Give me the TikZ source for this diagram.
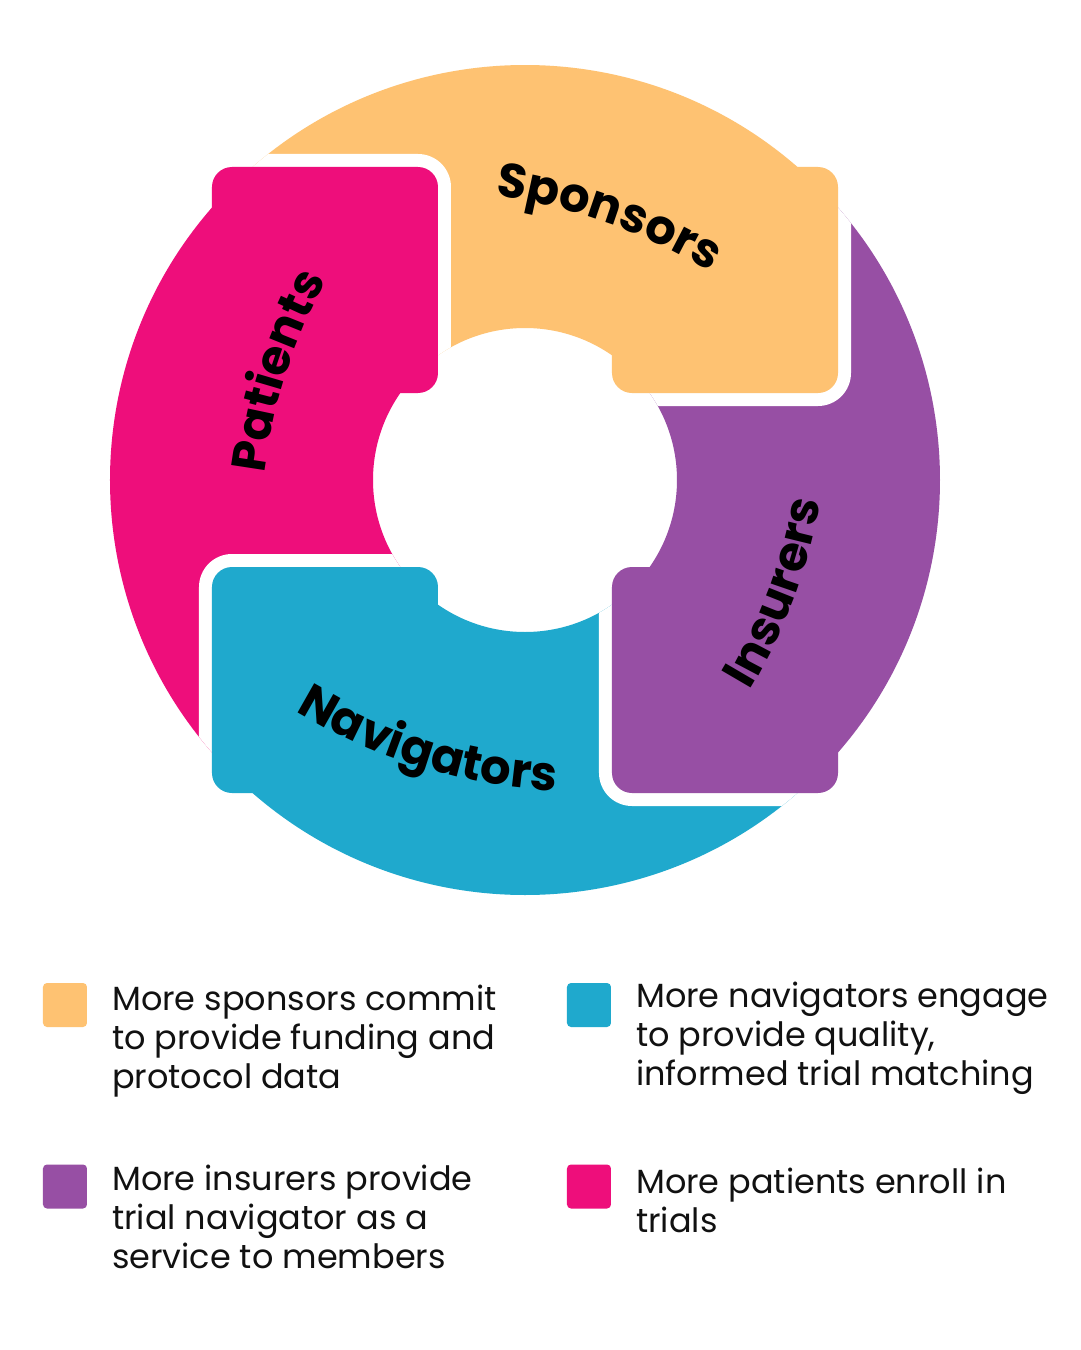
\documentclass[tikz,border=0pt]{standalone}
\usepackage{fontspec}
\setmainfont{Poppins}
\newfontfamily\poppins{Poppins}
\usetikzlibrary{decorations.text}
\definecolor{cOrange}{HTML}{FEC272}
\definecolor{cPurple}{HTML}{974FA4}
\definecolor{cBlue}{HTML}{1FA9CD}
\definecolor{cPink}{HTML}{EE0E7B}
\definecolor{cText}{HTML}{111111}
\newcommand\lblfont{\poppins\bfseries\fontsize{48}{48}\selectfont}
\begin{document}
\begin{tikzpicture}[x=1pt,y=1pt,
  tabbox/.style={rounded corners=20pt},
  tabborder/.style={fill=white, rounded corners=33pt},
  legsq/.style={rounded corners=4pt, minimum size=44pt, inner sep=0pt},
  legtext/.style={anchor=base west, align=left, inner sep=0pt, font=\fontsize{33.5}{39}\selectfont, text=cText},
  ringlabel/.style={decorate, decoration={text along path, text align=center, text={|\lblfont|#1}}}
]
\useasboundingbox (-525,-870) rectangle (555,480);
\fill[white] (-525,-870) rectangle (555,480);

% ring sectors
\fill[cOrange] (45:415) arc[start angle=45,end angle=135,radius=415] -- (135:152) arc[start angle=135,end angle=45,radius=152] -- cycle;
\fill[cPink] (135:415) arc[start angle=135,end angle=225,radius=415] -- (225:152) arc[start angle=225,end angle=135,radius=152] -- cycle;
\fill[cBlue] (225:415) arc[start angle=225,end angle=315,radius=415] -- (315:152) arc[start angle=315,end angle=225,radius=152] -- cycle;
\fill[cPurple] (-45:415) arc[start angle=-45,end angle=45,radius=415] -- (45:152) arc[start angle=45,end angle=-45,radius=152] -- cycle;

% orange tab over purple
\begin{scope}
\clip (-45:415) arc[start angle=-45,end angle=45,radius=415] -- (45:152) arc[start angle=45,end angle=-45,radius=152] -- cycle;
\fill[tabborder] (74,74) rectangle (326,326);
\end{scope}
\fill[cOrange, tabbox] (87,87) rectangle (313,313);

% pink tab over orange
\begin{scope}
\clip (45:415) arc[start angle=45,end angle=135,radius=415] -- (135:152) arc[start angle=135,end angle=45,radius=152] -- cycle;
\fill[tabborder] (-326,74) rectangle (-74,326);
\end{scope}
\fill[cPink, tabbox] (-313,87) rectangle (-87,313);

% blue tab over pink
\begin{scope}
\clip (135:415) arc[start angle=135,end angle=225,radius=415] -- (225:152) arc[start angle=225,end angle=135,radius=152] -- cycle;
\fill[tabborder] (-326,-326) rectangle (-74,-74);
\end{scope}
\fill[cBlue, tabbox] (-313,-313) rectangle (-87,-87);

% purple tab over blue
\begin{scope}
\clip (225:415) arc[start angle=225,end angle=315,radius=415] -- (315:152) arc[start angle=315,end angle=225,radius=152] -- cycle;
\fill[tabborder] (74,-326) rectangle (326,-74);
\end{scope}
\fill[cPurple, tabbox] (87,-313) rectangle (313,-87);

% ring labels
\begin{scope}[shift={(-101.7,-261.4)}]
\path[ringlabel=Sponsors] (91.3:550) arc[start angle=91.3,end angle=49.7,radius=550];
\end{scope}
\begin{scope}[shift={(285.1,-61.8)}]
\path[ringlabel=Patients] (183:550) arc[start angle=183,end angle=141.4,radius=550];
\end{scope}
\begin{scope}[shift={(-246.2,73.7)}]
\path[ringlabel=Insurers] (-41.3:550) arc[start angle=-41.3,end angle=0.3,radius=550];
\end{scope}
\begin{scope}[shift={(57.5,238.4)}]
\path[ringlabel=Navigators] (-127.9:550) arc[start angle=-127.9,end angle=-86.3,radius=550];
\end{scope}

% legend (node base = baseline of last line)
\node[legsq, fill=cOrange] (sqO) at (-460,-525) {};
\node[legtext] (txO) at (-413,-608) {More sponsors commit\\to provide funding and\\protocol data};
\node[legsq, fill=cPurple] (sqU) at (-460,-706.5) {};
\node[legtext] (txU) at (-413,-788) {More insurers provide\\trial navigator as a\\service to members};
\node[legsq, fill=cBlue] (sqB) at (64,-525) {};
\node[legtext] (txB) at (111,-605) {More navigators engage\\to provide quality,\\informed trial matching};
\node[legsq, fill=cPink] (sqP) at (64,-706.5) {};
\node[legtext] (txP) at (111,-752) {More patients enroll in\\trials};
\end{tikzpicture}
\end{document}
